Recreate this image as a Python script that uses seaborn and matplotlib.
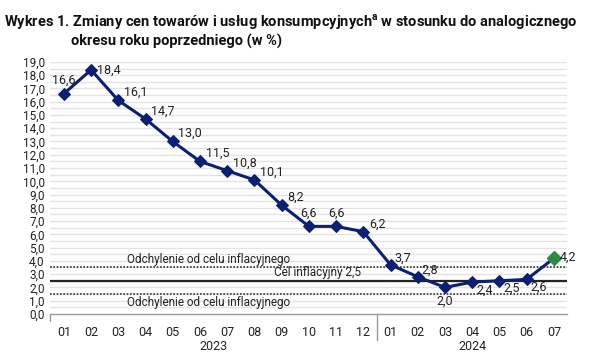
import matplotlib
matplotlib.use("Agg")
import matplotlib.pyplot as plt
import seaborn as sns
import pandas as pd
import numpy as np

months = ["01", "02", "03", "04", "05", "06", "07", "08", "09", "10", "11", "12",
          "01", "02", "03", "04", "05", "06", "07"]
values = [16.6, 18.4, 16.1, 14.7, 13.0, 11.5, 10.8, 10.1, 8.2, 6.6, 6.6, 6.2,
          3.7, 2.8, 2.0, 2.4, 2.5, 2.6, 4.2]
years = ["2023", "2024"]
target = 2.5
upper_dev = 3.5
lower_dev = 1.5

sns.set_theme(style="white")
plt.rcParams['font.family'] = ['Roboto', 'DejaVu Sans']

navy = "#0d1f73"
green = "#2e8b45"
txt = "#222222"

df = pd.DataFrame({"x": np.arange(len(values)), "v": values})

fig = plt.figure(figsize=(6.05, 3.6), dpi=100)
ax = fig.add_axes([0.083, 0.128, 0.855, 0.70])

# grid lines every 0.5
for yv in np.arange(0.5, 19.01, 0.5):
    ax.axhline(yv, color="#e3e3e3", lw=1.0, zorder=0)

# reference lines
ax.axhline(upper_dev, color="#333333", lw=1.2, ls=(0, (1, 1)), zorder=1)
ax.axhline(lower_dev, color="#333333", lw=1.2, ls=(0, (1, 1)), zorder=1)
ax.axhline(target, color="#222222", lw=1.6, zorder=1)
ax.text(5.3, upper_dev + 0.15, "Odchylenie od celu inflacyjnego", ha="center", va="bottom",
        fontsize=8.5, color=txt)
ax.text(5.3, lower_dev - 0.15, "Odchylenie od celu inflacyjnego", ha="center", va="top",
        fontsize=8.5, color=txt)
ax.text(9.3, target + 0.12, "Cel inflacyjny 2,5", ha="center", va="bottom",
        fontsize=8.5, color=txt)

sns.lineplot(data=df, x="x", y="v", ax=ax, color=navy, lw=2.2, marker="D",
             markersize=6, markeredgecolor=navy, zorder=3)
ax.plot(df["x"].iloc[-1], df["v"].iloc[-1], marker="D", markersize=7.5,
        color=green, markeredgecolor=green, zorder=4, ls="none")

fmt = lambda v: f"{v:.1f}".replace(".", ",")
offsets = {}
for i in range(len(values)):
    offsets[i] = (4, 1, "left", "bottom")
offsets[0] = (0, 5, "center", "bottom")
offsets[9] = (0, 5, "center", "bottom")
offsets[10] = (0, 5, "center", "bottom")
offsets[12] = (3, 0, "left", "bottom")
offsets[13] = (3, 0, "left", "bottom")
offsets[14] = (0, -5, "center", "top")
offsets[15] = (3, -1, "left", "top")
offsets[16] = (3, -1, "left", "top")
offsets[17] = (3, -1, "left", "top")
offsets[18] = (4, -4, "left", "bottom")
offsets[1] = (4, -5, "left", "bottom")
for i, v in enumerate(values):
    dx, dy, ha, va = offsets[i]
    ax.annotate(fmt(v), (i, v), xytext=(dx, dy), textcoords="offset points",
                ha=ha, va=va, fontsize=9, color=txt, zorder=5)

ax.set_xlim(-0.5, len(values) - 0.5)
ax.set_ylim(0, 19)
ax.set_yticks(np.arange(0, 19.1, 1))
ax.set_yticklabels([fmt(y) for y in np.arange(0, 19.1, 1)], fontsize=8.5, color=txt)
ax.set_xticks(np.arange(len(values)))
ax.set_xticklabels(months, fontsize=9, color=txt)
ax.set_xticks(np.arange(-0.5, len(values), 1), minor=True)
ax.tick_params(axis="x", which="major", length=0, pad=9)
ax.tick_params(axis="x", which="minor", length=4, color="#999999", width=1)
ax.tick_params(axis="y", length=0, pad=4)
ax.set_xlabel("")
ax.set_ylabel("")
for s in ["top", "right", "left"]:
    ax.spines[s].set_visible(False)
ax.spines["bottom"].set_color("#999999")
ax.spines["bottom"].set_linewidth(1)

# year separator
ax.plot([11.5, 11.5], [0, -0.105], transform=ax.get_xaxis_transform(),
        color="#999999", lw=1, clip_on=False)
ax.plot([-0.5, -0.5], [0, -0.03], transform=ax.get_xaxis_transform(),
        color="#999999", lw=1, clip_on=False)
ax.text(5.5, -0.105, years[0], transform=ax.get_xaxis_transform(), ha="center",
        va="top", fontsize=9, color=txt)
ax.text(15.0, -0.105, years[1], transform=ax.get_xaxis_transform(), ha="center",
        va="top", fontsize=9, color=txt)

fig.text(0.007, 0.965, "Wykres 1. Zmiany cen towarów i usług konsumpcyjnych$^{\\mathregular{a}}$ w stosunku do analogicznego",
         fontsize=10.5, fontweight="bold", color="#111111", ha="left", va="top")
fig.text(0.118, 0.905, "okresu roku poprzedniego (w %)",
         fontsize=10.5, fontweight="bold", color="#111111", ha="left", va="top")

fig.savefig("out.png", dpi=100)
